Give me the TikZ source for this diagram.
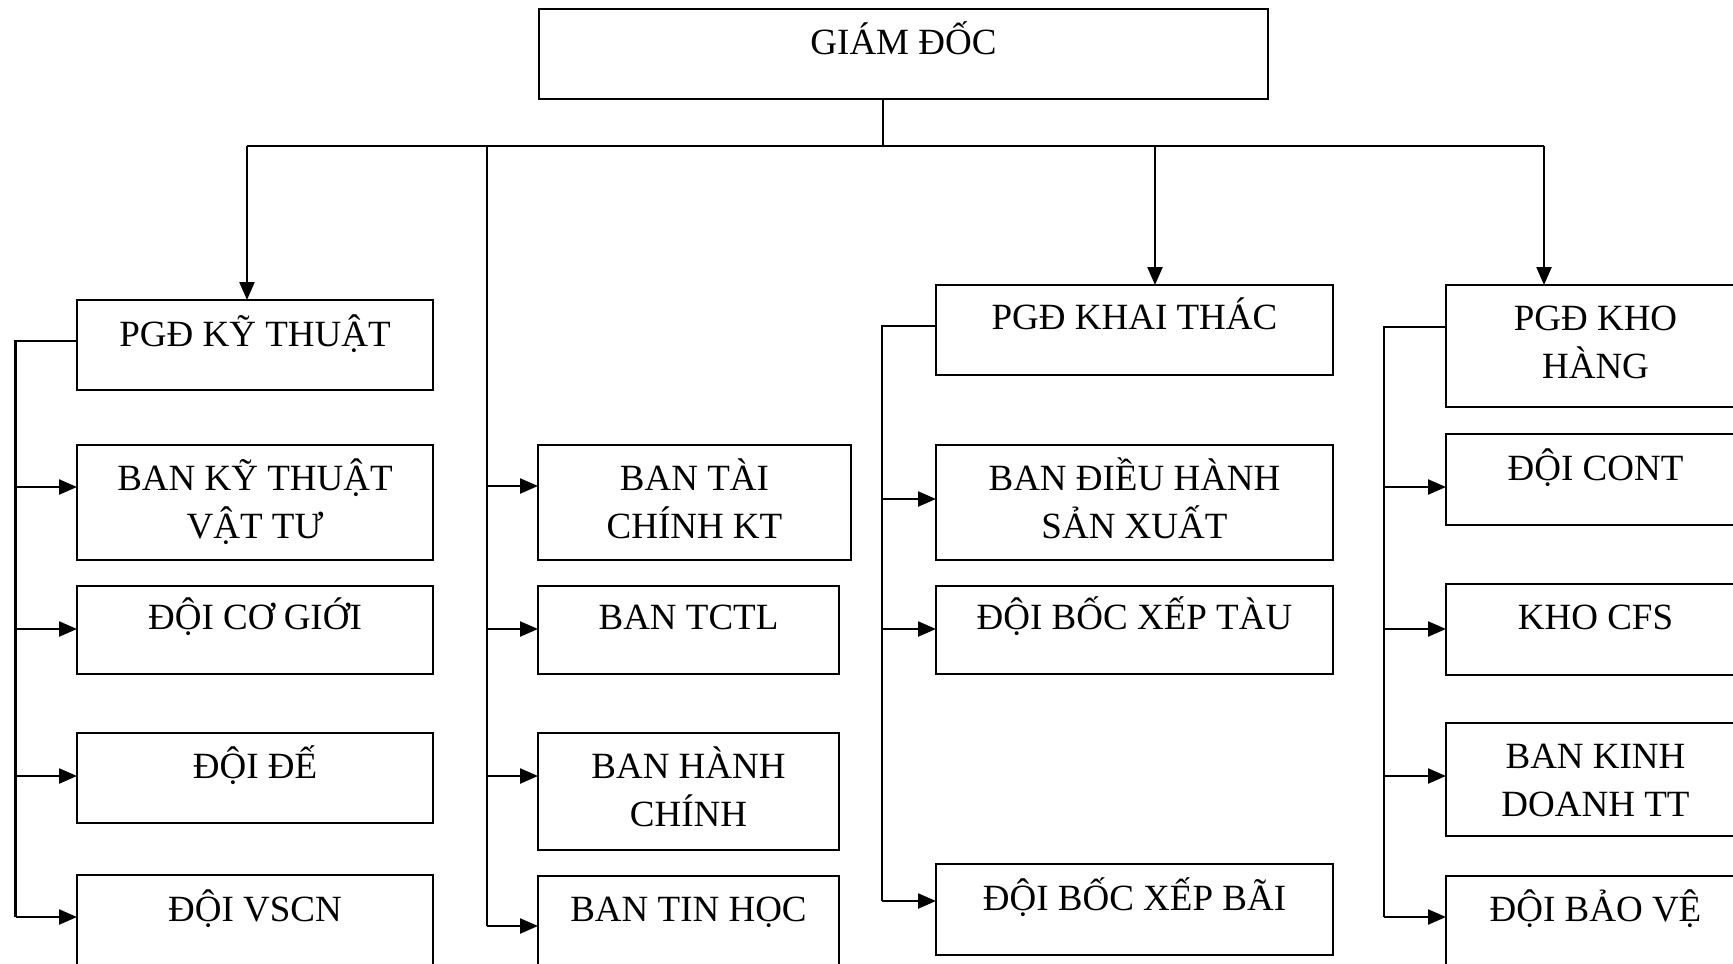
\documentclass[tikz,border=0pt]{standalone}
\usepackage{fontspec}
\setmainfont{Liberation Serif}
\usetikzlibrary{arrows.meta}

% centred lines, baseline at the first line
\newcommand\lns[1]{\vtop{\halign{\hfil##\hfil\cr#1\crcr}}}

% box with its caption: name, left, top, right, bottom, first baseline, text
\newcommand\orgbox[7]{%
  \node[unitbox, minimum width={(#4-#2)*1pt}, minimum height={(#5-#3)*1pt}]
    (#1) at ({(#2+#4)/2},{(#3+#5)/2}) {};
  \node[caption] (#1-t) at ({(#2+#4)/2},#6) {\lns{#7}};
}

\tikzset{
  unitbox/.style={draw=black, line width=2.3pt, inner sep=0pt, outer sep=0pt, rectangle},
  caption/.style={anchor=base, inner sep=0pt, outer sep=0pt},
  link/.style={draw=black, line width=2.3pt},
  arr/.style={link, -{Triangle[length=18pt,width=15pt]}},
}

\begin{document}
\begin{tikzpicture}[x=1pt, y=-1pt, font=\fontsize{37}{48.6}\selectfont]
\useasboundingbox (0,0) rectangle (1733,964);
\clip (0,0) rectangle (1733,964);
\fill[white] (0,0) rectangle (1733,964);

% director
\orgbox{gd}{539}{9}{1268}{99}{54}{GIÁM ĐỐC}

% technical branch
\orgbox{pgdkt}{77}{300}{433}{390}{346}{PGĐ KỸ THUẬT}
\orgbox{bktvt}{77}{445}{433}{560}{490}{BAN KỸ THUẬT\cr VẬT TƯ}
\orgbox{dcg}{77}{586}{433}{674}{629}{ĐỘI CƠ GIỚI}
\orgbox{dde}{77}{733}{433}{823}{778}{ĐỘI ĐẾ}
\orgbox{dvscn}{77}{875}{433}{968}{921}{ĐỘI VSCN}

% staff offices
\orgbox{btckt}{538}{445}{851}{560}{490}{BAN TÀI\cr CHÍNH KT}
\orgbox{btctl}{538}{586}{839}{674}{629}{BAN TCTL}
\orgbox{bhc}{538}{733}{839}{850}{778}{BAN HÀNH\cr CHÍNH}
\orgbox{bth}{538}{876}{839}{968}{921}{BAN TIN HỌC}

% operations branch
\orgbox{pgdkth}{936}{285}{1333}{375}{329}{PGĐ KHAI THÁC}
\orgbox{bdhsx}{936}{445}{1333}{560}{490}{BAN ĐIỀU HÀNH\cr SẢN XUẤT}
\orgbox{dbxt}{936}{586}{1333}{674}{629}{ĐỘI BỐC XẾP TÀU}
\orgbox{dbxb}{936}{864}{1333}{955}{910}{ĐỘI BỐC XẾP BÃI}

% warehouse branch
\orgbox{pgdkh}{1446}{285}{1745}{407}{330}{PGĐ KHO\cr HÀNG}
\orgbox{dcont}{1446}{434}{1745}{525}{480}{ĐỘI CONT}
\orgbox{kcfs}{1446}{584}{1745}{675}{629}{KHO CFS}
\orgbox{bkdtt}{1446}{723}{1745}{836}{768}{BAN KINH\cr DOANH TT}
\orgbox{dbv}{1446}{876}{1745}{968}{921}{ĐỘI BẢO VỆ}

% top bus
\coordinate (busL) at (247,146);
\coordinate (busR) at (1544,146);
\coordinate (busM) at (1155,146);
\coordinate (busS) at (487,146);
\coordinate (busG) at (883,146);
\draw[link] (busL) -- (busR);
\draw[link] (busG |- gd.south) -- (busG);
\draw[arr] (busL) -- (busL |- pgdkt.north);
\draw[arr] (busM) -- (busM |- pgdkth.north);
\draw[arr] (busR) -- (busR |- pgdkh.north);

% technical trunk
\coordinate (k0) at (15.5,341);
\coordinate (k1) at (15.5,487);
\coordinate (k2) at (15.5,629);
\coordinate (k3) at (15.5,776);
\coordinate (k4) at (15.5,917);
\draw[link] (pgdkt.west |- k0) -- (k0) -- (k4);
\draw[arr] (k1) -- (k1 -| bktvt.west);
\draw[arr] (k2) -- (k2 -| dcg.west);
\draw[arr] (k3) -- (k3 -| dde.west);
\draw[arr] (k4) -- (k4 -| dvscn.west);

% staff trunk
\coordinate (s1) at (487,486);
\coordinate (s2) at (487,629);
\coordinate (s3) at (487,776);
\coordinate (s4) at (487,926);
\draw[link] (busS) -- (s4);
\draw[arr] (s1) -- (s1 -| btckt.west);
\draw[arr] (s2) -- (s2 -| btctl.west);
\draw[arr] (s3) -- (s3 -| bhc.west);
\draw[arr] (s4) -- (s4 -| bth.west);

% operations trunk
\coordinate (o0) at (882,326);
\coordinate (o1) at (882,499);
\coordinate (o2) at (882,629);
\coordinate (o3) at (882,901);
\draw[link] (pgdkth.west |- o0) -- (o0) -- (o3);
\draw[arr] (o1) -- (o1 -| bdhsx.west);
\draw[arr] (o2) -- (o2 -| dbxt.west);
\draw[arr] (o3) -- (o3 -| dbxb.west);

% warehouse trunk
\coordinate (w0) at (1384,327);
\coordinate (w1) at (1384,487);
\coordinate (w2) at (1384,629);
\coordinate (w3) at (1384,776);
\coordinate (w4) at (1384,917);
\draw[link] (pgdkh.west |- w0) -- (w0) -- (w4);
\draw[arr] (w1) -- (w1 -| dcont.west);
\draw[arr] (w2) -- (w2 -| kcfs.west);
\draw[arr] (w3) -- (w3 -| bkdtt.west);
\draw[arr] (w4) -- (w4 -| dbv.west);
\end{tikzpicture}
\end{document}
